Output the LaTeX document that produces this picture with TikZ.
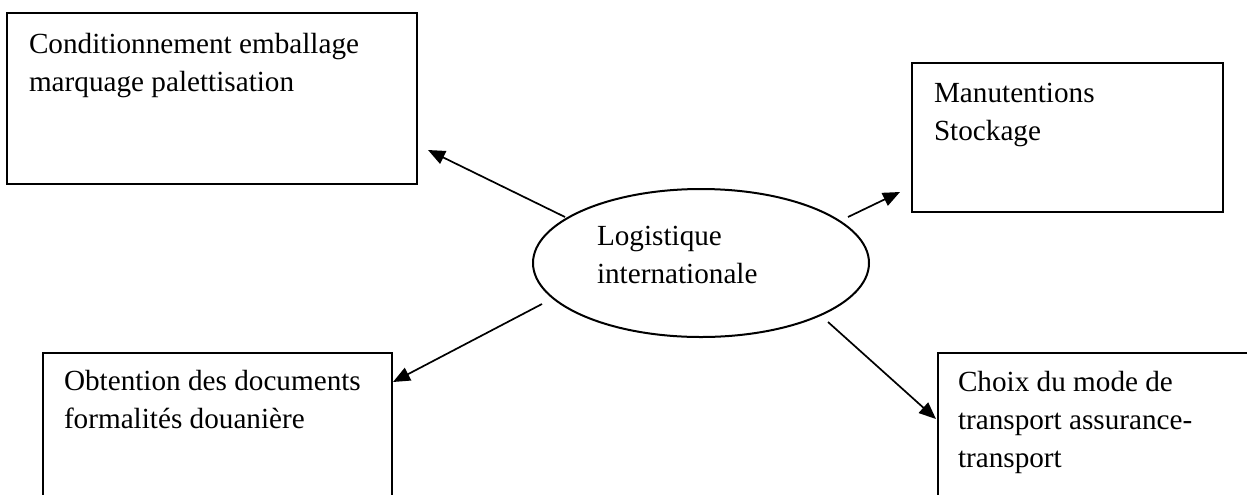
\documentclass[tikz,border=0pt]{standalone}
\usepackage{fontspec}
\setmainfont{Liberation Serif}
\usetikzlibrary{shapes.geometric,arrows.meta}

\begin{document}
\begin{tikzpicture}[x=0.5pt,y=-0.5pt,line width=1pt,>={Triangle[length=8.5pt,width=7pt]},boite/.style={draw,rectangle,inner sep=0pt},bulle/.style={draw,ellipse,inner sep=0pt,minimum width=168pt,minimum height=74pt},txt/.style={anchor=base west,align=left,inner sep=0pt,font=\fontsize{14.6}{19}\selectfont},fleche/.style={->,line width=0.85pt}]
\useasboundingbox (0,0) rectangle (1247,494);
\clip (0,0) rectangle (1247,494);
% cadres
\node[boite,minimum width=205pt,minimum height=85.5pt] (cond) at (212,98.5){};
\node[boite,minimum width=155.5pt,minimum height=74.5pt] (manu) at (1067.5,137.5){};
\node[boite,minimum width=174.5pt,minimum height=83.5pt] (obt) at (217.5,436.5){};
\node[boite,minimum width=171pt,minimum height=83.5pt] (choix) at (1109,436.5){};
\node[bulle] (logi) at (701,263){};
% textes (base = derniere ligne)
\node[txt] (condt) at (28,91){Conditionnement emballage\\marquage palettisation};
\node[txt] (manut) at (933,140){Manutentions\\Stockage};
\node[txt] (obtt) at (63,428){Obtention des documents\\formalités douanière};
\node[txt] (choixt) at (957,467){Choix du mode de\\transport assurance-\\transport};
\node[txt] (logit) at (596,283){Logistique\\internationale};
% fleches
\coordinate (s1) at (565,217); \coordinate (t1) at (428,150);
\coordinate (s2) at (848,217); \coordinate (t2) at (900,192);
\coordinate (s3) at (542,304); \coordinate (t3) at (393,382);
\coordinate (s4) at (828,322); \coordinate (t4) at (936,419);
\foreach \i in {1,2,3,4}{\draw[fleche] (s\i) -- (t\i);};
\end{tikzpicture}
\end{document}
